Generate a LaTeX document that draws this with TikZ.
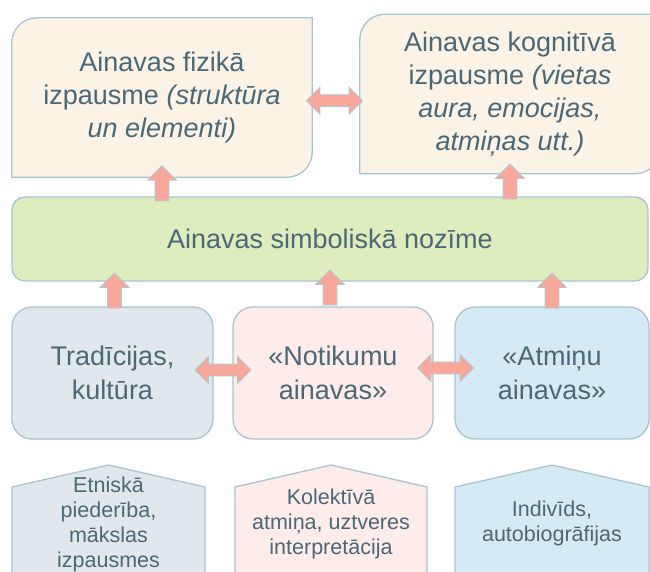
\documentclass[tikz,border=0pt]{standalone}
\usepackage{fontspec}
\setmainfont{Liberation Sans}
\usetikzlibrary{shapes.arrows,backgrounds}
\definecolor{linec}{RGB}{170,196,208}
\definecolor{textc}{RGB}{74,104,118}
\definecolor{beigec}{RGB}{250,243,230}
\definecolor{greenc}{RGB}{222,237,190}
\definecolor{greyc}{RGB}{225,232,237}
\definecolor{pinkc}{RGB}{253,236,233}
\definecolor{bluec}{RGB}{214,234,246}
\definecolor{arrowc}{RGB}{247,168,155}
\definecolor{arrowline}{RGB}{180,200,210}
\begin{document}
\begin{tikzpicture}[x=1pt,y=1pt,
  bigtxt/.style={text=textc, align=center, font=\fontsize{27}{33}\selectfont},
  smalltxt/.style={text=textc, align=center, font=\fontsize{21.5}{25}\selectfont},
  topbox/.style={bigtxt, minimum width=300pt, minimum height=159pt, inner sep=0pt},
  topshape/.style={draw=linec, line width=1.3pt, fill=beigec},
  symbox/.style={bigtxt, draw=linec, line width=1.3pt, fill=greenc, rounded corners=13pt, minimum width=636pt, minimum height=84pt},
  lowbox/.style={bigtxt, font=\fontsize{27}{34}\selectfont, draw=linec, line width=1.3pt, rounded corners=20pt, minimum height=132pt, inner sep=0pt},
  house/.style={draw=linec, line width=1.3pt},
  uparrow/.style={single arrow, shape border rotate=90, fill=arrowc, draw=arrowline, line width=0.9pt, minimum height=35pt, inner sep=6.5pt, single arrow head extend=7.5pt},
  dblarrow/.style={double arrow, fill=arrowc, draw=arrowline, line width=0.9pt, minimum height=56pt, inner sep=5.5pt, double arrow head extend=7.5pt}]
\useasboundingbox (0,0) rectangle (650,571);
\node[topbox] (phys) at (162,473.5) {Ainavas fizikā\\izpausme \textit{(struktūra}\\\textit{un elementi)}};
\node[topbox] (cogn) at (510,477) {Ainavas kognitīvā\\izpausme \textit{(vietas}\\\textit{aura, emocijas,}\\\textit{atmiņas utt.)}};
\begin{scope}[on background layer]
\draw[topshape] (phys.south west) -- ([yshift=-25pt]phys.north west) arc[start angle=180, end angle=90, radius=25pt] -- (phys.north east) -- ([yshift=25pt]phys.south east) arc[start angle=0, end angle=-90, radius=25pt] -- cycle;
\draw[topshape] (cogn.south west) -- ([yshift=-25pt]cogn.north west) arc[start angle=180, end angle=90, radius=25pt] -- (cogn.north east) -- ([yshift=25pt]cogn.south east) arc[start angle=0, end angle=-90, radius=25pt] -- cycle;
\end{scope}
\node[symbox] (symb) at (330,332) {Ainavas simboliskā nozīme};
\node[lowbox, fill=greyc, minimum width=201pt] (trad) at (112.5,198) {Tradīcijas,\\kultūra};
\node[lowbox, fill=pinkc, minimum width=200pt] (noti) at (333,198) {«Notikumu\\ainavas»};
\node[lowbox, fill=bluec, minimum width=194pt] (atmi) at (552,198) {«Atmiņu\\ainavas»};
\draw[house, fill=greyc] (12,-10) -- (12,84) -- (108.5,106) -- (205,84) -- (205,-10) -- cycle;
\draw[house, fill=pinkc] (235,-10) -- (235,84) -- (331,106) -- (427,84) -- (427,-10) -- cycle;
\draw[house, fill=bluec] (455,-10) -- (455,84) -- (552,106) -- (649,84) -- (649,-10) -- cycle;
\node[smalltxt] (ethn) at (108.5,47) {Etniskā\\piederība,\\mākslas\\izpausmes};
\node[smalltxt] (koll) at (331,47) {Kolektīvā\\atmiņa, uztveres\\interpretācija};
\node[smalltxt] (indv) at (552,48) {Indivīds,\\autobiogrāfijas};
\path (phys.south |- symb.north) -- (phys.south) node[midway, uparrow]{};
\path (cogn.south |- symb.north) -- (cogn.south) node[midway, uparrow]{};
\path (trad.north) -- (trad.north |- symb.south) node[midway, uparrow, xshift=2pt]{};
\path (noti.north) -- (noti.north |- symb.south) node[midway, uparrow, xshift=-3pt, yshift=3pt]{};
\path (atmi.north) -- (atmi.north |- symb.south) node[midway, uparrow]{};
\path (phys.east) -- (cogn.west) node[midway, dblarrow, xshift=-1.5pt, yshift=-5pt]{};
\path (trad.east) -- (noti.west) node[midway, dblarrow, yshift=3pt]{};
\path (noti.east) -- (atmi.west) node[midway, dblarrow, xshift=1.5pt, yshift=5pt]{};
\end{tikzpicture}
\end{document}
